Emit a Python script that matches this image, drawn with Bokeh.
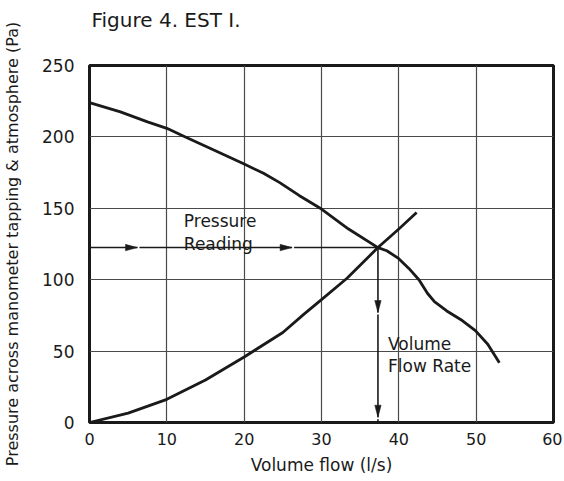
from bokeh.plotting import figure
from bokeh.models import Range1d, FixedTicker, Title
from bokeh.embed import file_html
from bokeh.resources import INLINE
from bokeh.core.properties import value

# ---- data ----
fan_flow = [0, 4, 7.5, 10, 12.4, 16, 20, 22.5, 24.6, 27.1, 30, 33.5, 37.3,
            38.45, 40, 41.3, 42.6, 43.7, 44.6, 46.2, 48.2, 49.9, 51.5, 53.0]
fan_pressure = [224, 217.5, 210.5, 206, 200, 191, 181, 174.5, 168, 159, 149.5, 135.5, 122.5,
                120.3, 114.7, 107.9, 100, 90.5, 84.6, 78.1, 71.4, 64.3, 54.8, 41.8]

sys_flow = [0, 5, 10, 15, 20, 25, 27.7, 30, 33.3, 37.3, 40, 42.3]
sys_pressure = [0, 6.6, 16.2, 29.8, 45.9, 63, 75.7, 86, 101, 122.5, 135.5, 147]

operating_flow = 37.3
operating_pressure = 122.5
h_arrow_tips = [6.2, 26.2]      # flow values of the right-pointing heads
v_arrow_tips = [77, 3.7]        # pressure values of the down-pointing heads

x_ticks = [0, 10, 20, 30, 40, 50, 60]
y_ticks = [0, 50, 100, 150, 200, 250]

title_text = "Figure 4. EST I."
x_label = "Volume flow (l/s)"
y_label = "Pressure across manometer tapping & atmosphere (Pa)"
pressure_note = ["Pressure", "Reading"]
flow_note = ["Volume", "Flow Rate"]

FONT = "DejaVu Sans"
INK = "#1a1a1a"

X0, X1, Y0, Y1 = 0, 60, 0, 250
FRAME_W, FRAME_H = 465, 357
W, H = 562, 478

p = figure(width=W, height=H, output_backend="svg", toolbar_location=None,
           x_range=Range1d(X0, X1), y_range=Range1d(Y0, Y1),
           min_border_left=88, min_border_right=W - 88 - FRAME_W,
           min_border_top=65, min_border_bottom=H - 65 - FRAME_H)

p.background_fill_color = "white"
p.border_fill_color = "white"
p.outline_line_color = INK
p.outline_line_width = 3

xax = p.below[0]
yax = p.left[0]

for ax in (xax, yax):
    ax.axis_line_color = None
    ax.major_tick_line_color = None
    ax.minor_tick_line_color = None
    ax.major_tick_out = 0
    ax.major_tick_in = 0
    ax.minor_tick_out = 0
    ax.minor_tick_in = 0
    ax.major_label_text_font = FONT
    ax.major_label_text_color = INK
    ax.axis_label_text_font = FONT
    ax.axis_label_text_font_style = "normal"
    ax.axis_label_text_color = INK

xax.ticker = FixedTicker(ticks=x_ticks)
yax.ticker = FixedTicker(ticks=y_ticks)
xax.axis_label = x_label
yax.axis_label = y_label
xax.major_label_text_font_size = "16px"
yax.major_label_text_font_size = "17px"
xax.axis_label_text_font_size = "17px"
yax.axis_label_text_font_size = "16px"
xax.major_label_standoff = 10
yax.major_label_standoff = 15
xax.axis_label_standoff = 7
yax.axis_label_standoff = 17

# blank spacer panel between the title and the frame
p.add_layout(Title(text=" ", text_font_size="10px", standoff=14,
                   text_color="white"), "above")

p.title.text = title_text
p.title.align = "left"
p.title.offset = 2
p.title.vertical_align = "top"
p.title.standoff = 10
p.title.text_font = FONT
p.title.text_font_size = "20px"
p.title.text_font_style = "normal"
p.title.text_color = INK

p.xgrid.ticker = FixedTicker(ticks=x_ticks)
p.ygrid.ticker = FixedTicker(ticks=y_ticks)
p.grid.grid_line_color = "#4a4a4a"
p.grid.grid_line_width = 1.2

# curves
p.line(fan_flow, fan_pressure, line_color=INK, line_width=2.8, line_join="round")
p.line(sys_flow, sys_pressure, line_color=INK, line_width=2.8, line_join="round")

# arrow geometry (pixel sizes converted through the scales)
px_x = FRAME_W / (X1 - X0)
px_y = FRAME_H / (Y1 - Y0)
HEAD_L, HEAD_HW, GAP = 12.0, 3.2, 2.0

# horizontal arrow chain (pressure reading)
h_starts = [X0] + [t + GAP / px_x for t in h_arrow_tips]
h_ends = h_arrow_tips + [operating_flow]
p.segment(x0=h_starts, y0=[operating_pressure] * len(h_starts),
          x1=h_ends, y1=[operating_pressure] * len(h_ends), line_color=INK, line_width=1.6)
p.patches(
    xs=[[t, t - HEAD_L / px_x, t - HEAD_L / px_x] for t in h_arrow_tips],
    ys=[[operating_pressure, operating_pressure + HEAD_HW / px_y, operating_pressure - HEAD_HW / px_y]
        for _ in h_arrow_tips],
    fill_color=INK, line_color=INK, line_width=0.5)

# vertical arrow chain (volume flow rate)
v_starts = [operating_pressure] + [t - GAP / px_y for t in v_arrow_tips]
v_ends = v_arrow_tips + [Y0]
p.segment(x0=[operating_flow] * len(v_starts), y0=v_starts,
          x1=[operating_flow] * len(v_ends), y1=v_ends, line_color=INK, line_width=1.6)
p.patches(
    xs=[[operating_flow, operating_flow - HEAD_HW / px_x, operating_flow + HEAD_HW / px_x]
        for _ in v_arrow_tips],
    ys=[[t, t + HEAD_L / px_y, t + HEAD_L / px_y] for t in v_arrow_tips],
    fill_color=INK, line_color=INK, line_width=0.5)

# notes
note_style = dict(text_font=value(FONT), text_font_size="17px", text_color=INK,
                  text_baseline="alphabetic", text_align="left")
p.text(x=[12.2, 12.2], y=[141.2, 125.3], text=pressure_note, **note_style)
p.text(x=[38.6, 38.6], y=[54.7, 39.9], text=flow_note, **note_style)

open("out.html", "w").write(file_html(p, INLINE))
